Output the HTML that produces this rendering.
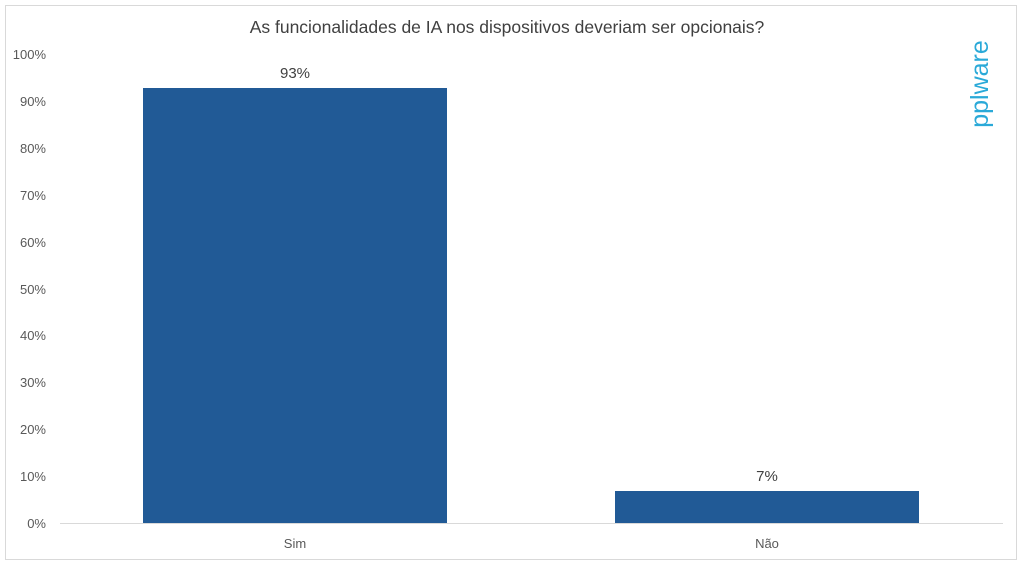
<!DOCTYPE html>
<html><head><meta charset="utf-8"><style>
body{margin:0;background:#fff;width:1024px;height:567px;overflow:hidden;font-family:"Liberation Sans",sans-serif}
</style></head><body>
<svg width="1024" height="567" xmlns="http://www.w3.org/2000/svg" font-family="Liberation Sans, sans-serif">
<rect x="5.5" y="5.5" width="1011" height="554" fill="#fff" stroke="#d9d9d9"/>
<text x="507" y="33" font-size="17.5" fill="#404040" text-anchor="middle">As funcionalidades de IA nos dispositivos deveriam ser opcionais?</text>
<g font-size="13" fill="#595959" text-anchor="end">
<text x="46" y="528">0%</text><text x="46" y="481">10%</text><text x="46" y="434">20%</text><text x="46" y="387">30%</text><text x="46" y="340">40%</text><text x="46" y="294">50%</text><text x="46" y="247">60%</text><text x="46" y="200">70%</text><text x="46" y="153">80%</text><text x="46" y="106">90%</text><text x="46" y="59">100%</text>
</g>
<line x1="60" y1="523.5" x2="1003" y2="523.5" stroke="#d9d9d9"/>
<rect x="143" y="88" width="304" height="435" fill="#215a96"/>
<rect x="615" y="491" width="304" height="32" fill="#215a96"/>
<text x="295" y="78" font-size="15" fill="#404040" text-anchor="middle">93%</text>
<text x="767" y="481" font-size="15" fill="#404040" text-anchor="middle">7%</text>
<text x="295" y="548" font-size="13" fill="#595959" text-anchor="middle">Sim</text>
<text x="767" y="548" font-size="13" fill="#595959" text-anchor="middle">Não</text>
<text transform="translate(988,84) rotate(-90)" font-size="25" fill="#2aa9d8" text-anchor="middle">pplware</text>
</svg>
</body></html>
